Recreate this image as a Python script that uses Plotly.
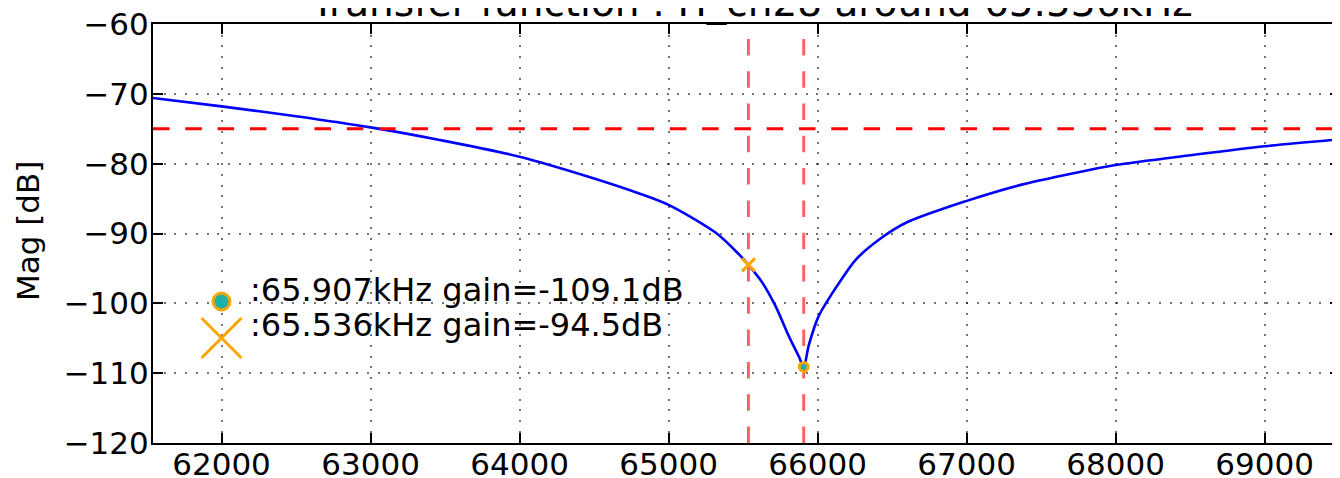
import plotly.graph_objects as go

# ---- data ----
freq_hz = [61540, 62000, 62500, 63000, 63463, 64000, 64468, 64808, 65000, 65317,
           65473, 65536, 65628, 65718, 65807, 65874, 65907, 65941, 66008, 66100,
           66150, 66254, 66411, 66590, 66991, 67370, 67800, 68000, 68500, 69000,
           69506]
mag_db = [-70.6, -71.8, -73.2, -74.8, -76.6, -79.0, -81.9, -84.3, -85.9, -89.9,
          -93.0, -94.5, -97.0, -100.4, -104.7, -107.6, -109.1, -106.0, -101.8, -98.5,
          -96.9, -93.8, -90.9, -88.5, -85.4, -83.0, -81.0, -80.2, -78.8, -77.5,
          -76.5]
threshold_db = -75
center_freq = 65536
center_gain = -94.5
notch_freq = 65907
notch_gain = -109.1
legend_labels = [":65.907kHz gain=-109.1dB", ":65.536kHz gain=-94.5dB"]
title_text = "Transfer function : H_ch28 around 65.536kHz"
y_label = "Mag [dB]"
x_range = [61540, 69506]
y_range = [-120, -60]

FONT = "DejaVu Sans"
ORANGE = "#ffa500"
TEAL = "#1fb0aa"
RED_DASH = "16.5px,15.8px"

# the page body has an 8px default margin; the figure is sized to fit the window
OFF = 8
W, H = 1340 - OFF, 478 - OFF
ML, MR, MT, MB = 153 - OFF, 0, 24 - OFF, 35
PW, PH = W - ML - MR, H - MT - MB
# window-pixel extents of the plot area
WX0, WX1 = ML + OFF, W - MR + OFF
WY1, WY0 = H - MB + OFF, MT + OFF


def px(xp):
    return (xp - WX0) / PW


def py(yp):
    return (WY1 - yp) / PH


fig = go.Figure()

# curve
fig.add_trace(go.Scatter(x=freq_hz, y=mag_db, mode="lines",
                         line=dict(color="#0000ff", width=2.6, shape="spline", smoothing=0.8),
                         showlegend=False))
# threshold & marker lines
fig.add_trace(go.Scatter(x=x_range, y=[threshold_db, threshold_db], mode="lines",
                         line=dict(color="#ff0000", width=3, dash=RED_DASH), showlegend=False))
for fx in (center_freq, notch_freq):
    fig.add_trace(go.Scatter(x=[fx, fx], y=y_range, mode="lines",
                             line=dict(color="rgba(255,40,40,0.72)", width=3, dash=RED_DASH),
                             showlegend=False))
# point markers
fig.add_trace(go.Scatter(x=[center_freq], y=[center_gain], mode="markers",
                         marker=dict(symbol="x-thin-open", size=13, color=ORANGE,
                                     line=dict(width=3, color=ORANGE)), showlegend=False))
fig.add_trace(go.Scatter(x=[notch_freq], y=[notch_gain], mode="markers",
                         marker=dict(symbol="circle", size=9, color=TEAL,
                                     line=dict(width=3, color=ORANGE)), showlegend=False))

# legend symbols drawn on a pixel overlay axis (window pixel coordinates)
fig.add_trace(go.Scatter(x=[221.5], y=[301.5], mode="markers", xaxis="x2", yaxis="y2",
                         marker=dict(symbol="circle", size=17, color=TEAL,
                                     line=dict(width=3, color=ORANGE)), showlegend=False))
fig.add_trace(go.Scatter(x=[221.5], y=[338], mode="markers", xaxis="x2", yaxis="y2",
                         marker=dict(symbol="x-thin-open", size=40, color=ORANGE,
                                     line=dict(width=3, color=ORANGE)), showlegend=False))

grid = dict(showgrid=True, gridcolor="rgba(0,0,0,0.55)", gridwidth=2, griddash="2px,8.7px",
            zeroline=False, showline=True, linecolor="black", linewidth=2, mirror="ticks",
            ticks="inside", ticklen=10, tickwidth=2, tickcolor="black", automargin=False,
            ticklabeloverflow="allow",
            tickfont=dict(family=FONT, size=31, color="black"))

fig.update_layout(
    width=W, height=H,
    margin=dict(l=ML, r=MR, t=MT, b=MB, pad=0, autoexpand=False),
    paper_bgcolor="white", plot_bgcolor="white",
    xaxis=dict(range=x_range, tick0=0, dtick=1000, tickformat="d", ticklabelstandoff=-7, **grid),
    yaxis=dict(range=y_range, tick0=0, dtick=10, ticklabelstandoff=-4, **grid),
    xaxis2=dict(overlaying="x", anchor="y2", range=[WX0, WX1], visible=False, automargin=False),
    yaxis2=dict(overlaying="y", anchor="x2", range=[WY1, WY0], visible=False, automargin=False),
    showlegend=False,
)

txt = dict(family=FONT, size=31, color="black")
leg = dict(family=FONT, size=32, color="black")
annotations = [
    dict(text=title_text, x=px(752), y=py(27), xref="paper", yref="paper",
         xanchor="center", yanchor="bottom", showarrow=False,
         font=dict(family=FONT, size=39, color="black")),
    dict(text=y_label, x=px(28), y=py(231), xref="paper", yref="paper", textangle=-90,
         xanchor="center", yanchor="middle", showarrow=False, font=txt),
    dict(text=legend_labels[0], x=px(248), y=py(290), xref="paper", yref="paper",
         xanchor="left", yanchor="middle", showarrow=False, font=leg),
    dict(text=legend_labels[1], x=px(248), y=py(325), xref="paper", yref="paper",
         xanchor="left", yanchor="middle", showarrow=False, font=leg),
]
fig.update_layout(annotations=annotations)

fig.write_html("out.html")
